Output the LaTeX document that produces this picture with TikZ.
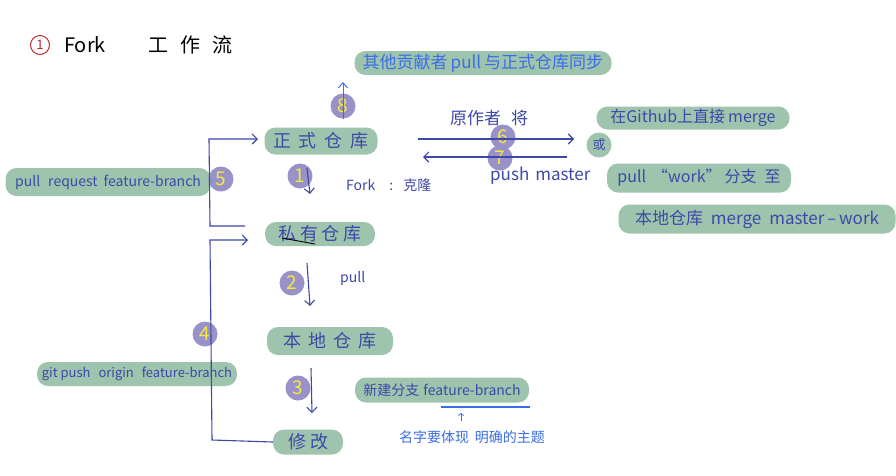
\documentclass[tikz,border=0pt]{standalone}
\usepackage{fontspec}
\setmainfont{Noto Sans CJK SC}
\usetikzlibrary{arrows.meta}
\definecolor{hlgreen}{RGB}{158,196,174}
\definecolor{inkblue}{RGB}{62,72,168}
\definecolor{lightblue}{RGB}{58,110,232}
\definecolor{numpurple}{RGB}{152,146,200}
\definecolor{numyellow}{RGB}{246,232,60}
\definecolor{titlered}{RGB}{190,40,40}
\tikzset{
  hl/.style={fill=hlgreen, rounded corners=11pt, inner sep=0pt, text=inkblue, font=\fontsize{14}{16}\selectfont},
  num/.style={circle, fill=numpurple, minimum size=25pt, inner sep=0pt, text=numyellow, font=\fontsize{19}{19}\selectfont},
  lbl/.style={text=inkblue, inner sep=0pt, font=\fontsize{14}{16}\selectfont},
  conn/.style={draw=inkblue, line width=1.1pt, -{Straight Barb[length=5pt,width=10pt]}},
  plain/.style={draw=inkblue, line width=1.1pt}
}
\begin{document}
\begin{tikzpicture}[x=1pt,y=-1pt]
\useasboundingbox[fill=white] (0,0) rectangle (896,475);

% title
\node[circle, draw=titlered, line width=1pt, minimum size=19pt, inner sep=0pt, text=titlered, font=\fontsize{13}{13}\selectfont] (t1) at (40,45) {1};
\node[inner sep=0pt, font=\fontsize{20}{22}\selectfont, anchor=west] (tfork) at (64,45) {Fork};
\node[inner sep=0pt, font=\fontsize{20}{22}\selectfont, anchor=west] (twork) at (148,45) {工\hspace{12pt}作\hspace{12pt}流};

% main column
\node[hl, minimum width=113pt, minimum height=27pt, font=\fontsize{18}{20}\selectfont] (official) at (321,141) {正\hspace{8pt}式\hspace{8pt}仓\hspace{8pt}库};
\node[hl, minimum width=110pt, minimum height=24pt, font=\fontsize{18}{20}\selectfont] (private) at (320,234) {私\hspace{4pt}有\hspace{4pt}仓\hspace{4pt}库};
\node[hl, minimum width=126pt, minimum height=28pt, font=\fontsize{18}{20}\selectfont] (local) at (330,341) {本\hspace{7pt}地\hspace{7pt}仓\hspace{7pt}库\hspace{14pt}};
\node[hl, minimum width=70pt, minimum height=25pt, font=\fontsize{18}{20}\selectfont] (modify) at (308,442) {修\hspace{4pt}改};

% numbers
\node[num] (n1) at (300,176) {1};
\node[num] (n2) at (292,283) {2};
\node[num] (n3) at (298,388) {3};

% step arrows
\coordinate (a1s) at (307,168); \coordinate (a1e) at (310,194);
\draw[conn] (a1s) -- (a1e);
\coordinate (a2s) at (307,263); \coordinate (a2e) at (310,306);
\draw[conn] (a2s) -- (a2e);
\coordinate (a3s) at (311,368); \coordinate (a3e) at (312,413);
\draw[conn] (a3s) -- (a3e);

\node[lbl, anchor=west] (forklbl) at (346,185) {Fork\hspace{14pt}:\hspace{10pt}克隆};
\node[lbl, anchor=west] (pulllbl) at (340,279) {pull};

% black stroke under private
\coordinate (bk1) at (282,238); \coordinate (bk2) at (315,244);
\draw[black, line width=0.9pt] (bk1) -- (bk2);

% bracket 5 (pull request)
\node[hl, minimum width=205pt, minimum height=28pt, font=\fontsize{14}{16}\selectfont] (pr) at (108,182) {pull\hspace{8pt}request\hspace{6pt}feature-branch};
\node[num] (n5) at (221,179) {5};
\coordinate (b5a) at (245,226); \coordinate (b5b) at (210,226);
\coordinate (b5c) at (209,139); \coordinate (b5d) at (258,139);
\draw[conn] (b5a) -- (b5b) -- (b5c) -- (b5d);

% bracket 4 (git push)
\node[num] (n4) at (205,334) {4};
\node[hl, minimum width=200pt, minimum height=24pt, font=\fontsize{13}{15}\selectfont] (gp) at (137,374) {git push\hspace{8pt}origin\hspace{8pt}feature-branch};
\coordinate (b4b) at (212,440); \coordinate (b4c) at (210,240); \coordinate (b4d) at (248,240);
\draw[conn] (modify.west) -- (b4b) -- (b4c) -- (b4d);

% new branch
\node[hl, minimum width=174pt, minimum height=25pt, font=\fontsize{14}{16}\selectfont] (newb) at (442,390) {新建分支\hspace{4pt}feature-branch};
\coordinate (ul1) at (441,407); \coordinate (ul2) at (530,407);
\draw[lightblue, line width=1.2pt] (ul1) -- (ul2);
\coordinate (ua1) at (461,421); \coordinate (ua2) at (461,413);
\draw[draw=lightblue, line width=0.8pt, -{Straight Barb[length=2pt,width=5pt]}] (ua1) -- (ua2);
\node[inner sep=0pt, text=lightblue, font=\fontsize{14}{16}\selectfont] (namehint) at (472,437) {名字要体现\hspace{6pt}明确的主题};

% top: sync
\node[hl, minimum width=257pt, minimum height=24pt, text=lightblue, font=\fontsize{17}{19}\selectfont] (sync) at (483,63) {其他贡献者\hspace{3pt}pull\hspace{3pt}与正式仓库同步};
\node[num] (n8) at (343,106) {8};
\coordinate (a8s) at (343,119); \coordinate (a8e) at (343,82);
\draw[draw=lightblue, line width=1pt, -{Straight Barb[length=5pt,width=9pt]}] (a8s) -- (a8e);

% origin author push master
\node[lbl, anchor=west, font=\fontsize{17}{19}\selectfont] (author) at (450,118) {原作者\hspace{10pt}将};
\node[num] (n6) at (503,137) {6};
\node[num] (n7) at (500,158) {7};
\coordinate (a6s) at (418,139); \coordinate (a6e) at (574,139);
\draw[conn] (a6s) -- (a6e);
\coordinate (a7s) at (567,157); \coordinate (a7e) at (423,157);
\draw[conn] (a7s) -- (a7e);
\node[lbl, anchor=west, font=\fontsize{17}{19}\selectfont] (pm) at (490,176) {push\hspace{6pt}master};

% right side options
\node[hl, minimum width=193pt, minimum height=23pt, font=\fontsize{16}{18}\selectfont] (gh) at (693,118) {在Github上直接\hspace{3pt}merge};
\node[circle, fill=hlgreen, minimum size=25pt, inner sep=0pt, text=inkblue, font=\fontsize{13}{13}\selectfont] (or) at (599,145) {或};
\node[hl, minimum width=184pt, minimum height=29pt, font=\fontsize{16}{18}\selectfont] (pw) at (699,178) {pull\hspace{6pt}“work”\hspace{3pt}分支\hspace{8pt}至};
\node[hl, minimum width=277pt, minimum height=29pt, font=\fontsize{17}{19}\selectfont] (lm) at (757,219) {本地仓库\hspace{8pt}merge\hspace{8pt}master\,–\,work};

\end{tikzpicture}
\end{document}
